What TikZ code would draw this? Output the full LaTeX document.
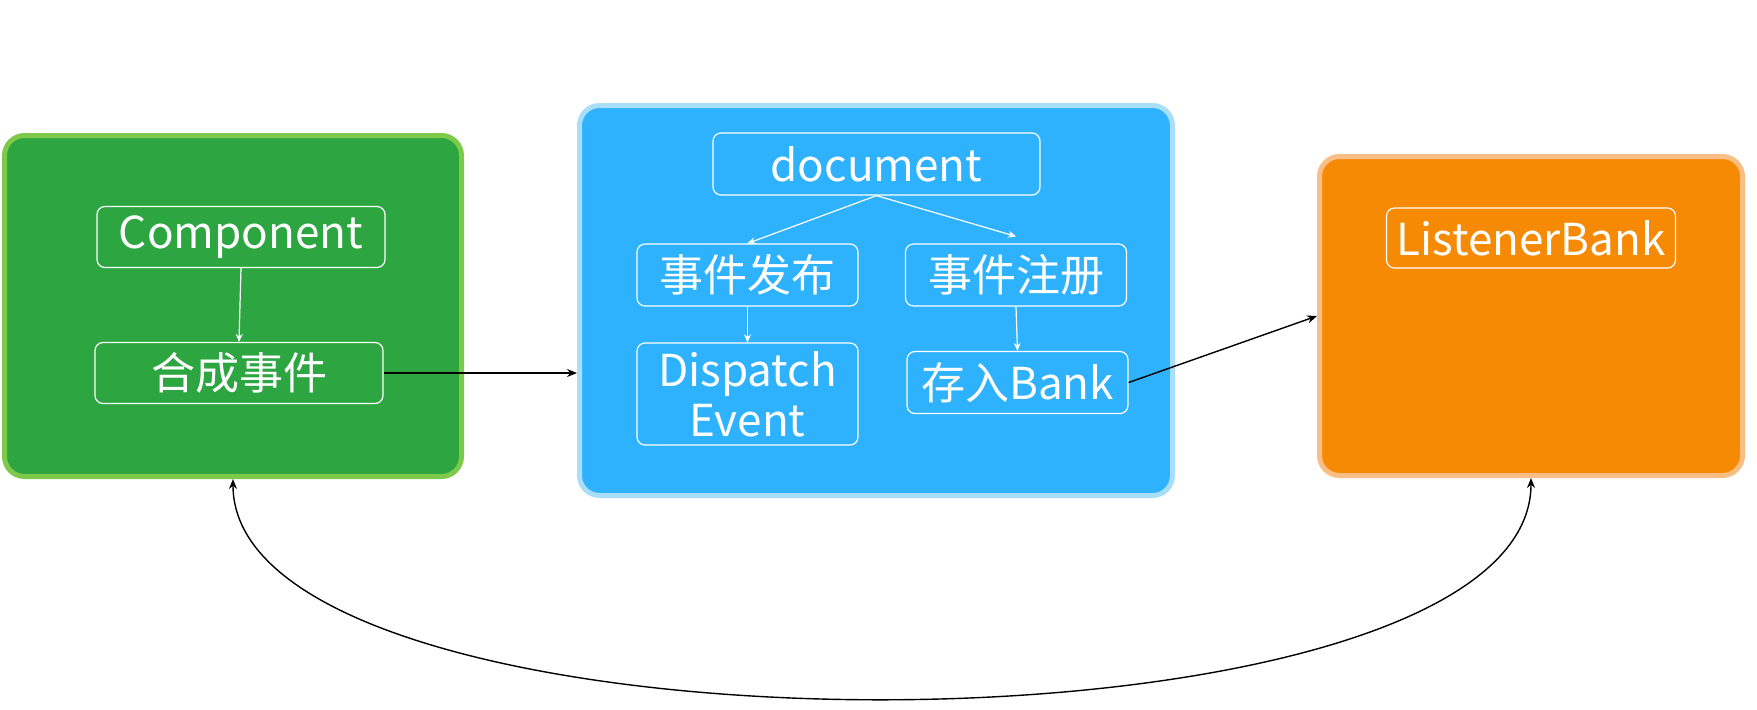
\documentclass[tikz,border=0pt]{standalone}
\usepackage{fontspec}
\setmainfont{Noto Sans CJK SC}
\usetikzlibrary{arrows.meta,positioning,calc}
\definecolor{grnfill}{RGB}{45,166,66}
\definecolor{grnline}{RGB}{125,201,74}
\definecolor{blufill}{RGB}{46,178,253}
\definecolor{bluline}{RGB}{168,222,248}
\definecolor{orgfill}{RGB}{247,138,4}
\definecolor{orgline}{RGB}{249,190,134}
\tikzset{
  >={Stealth[length=5pt,width=4pt]},
  every node/.style={font=\fontsize{22}{25}\selectfont},
  group/.style={line width=2.5pt,rounded corners=10pt,inner sep=0pt},
  item/.style={draw=white,line width=0.6pt,rounded corners=4pt,text=white,
               align=center,inner sep=0pt,minimum height=31pt},
  wide/.style={item,minimum width=144pt,minimum height=30.5pt},
  mid/.style={item,minimum width=110.5pt},
  inner/.style={->,draw=white,line width=0.6pt,>={Stealth[length=4pt,width=3.5pt]}},
  link/.style={->,draw=black,line width=0.7pt},
}

\begin{document}
\begin{tikzpicture}[x=0.5pt,y=0.5pt]
  \useasboundingbox (0,0) rectangle (1757,-709);

  % three groups
  \node[group,draw=grnline,fill=grnfill,minimum width=228.5pt,minimum height=170.5pt] (grn) at (233,-306) {};
  \node[group,draw=bluline,fill=blufill,minimum width=296.5pt,minimum height=195pt] (blu) at (876,-300.5) {};
  \node[group,draw=orgline,fill=orgfill,minimum width=211.5pt,minimum height=159.5pt] (org) at (1531,-316) {};

  % green group
  \node[wide] (comp) at (241,-237) {Component};
  \node[wide] (syn) at (239,-373) {合成事件};

  % blue group
  \node[item,minimum width=163.5pt] (doc) at (876.5,-164) {document};
  \node[mid] (pub) at (747.5,-275) {事件发布};
  \node[mid] (reg) at (1016,-275) {事件注册};
  \node[mid,minimum height=51pt] (disp) at (747.5,-394) {Dispatch\\Event};
  \node[mid] (bank) at (1017.5,-382.5) {存入Bank};

  % orange group
  \node[wide,minimum width=144.5pt,minimum height=30pt] (lsn) at (1531,-238) {ListenerBank};

  % arrows inside
  \draw[inner] (comp.south) -- (syn.north);
  \draw[inner] (doc.south) -- (pub.north);
  \draw[inner] (doc.south) -- ($(reg.north)+(0,7)$);
  \draw[inner] (pub.south) -- (disp.north);
  \draw[inner] (reg.south) -- (bank.north);

  % arrows between groups
  \draw[link] (syn.east) -- (syn.east -| blu.west);
  \draw[link] (bank.east) -- (org.west);
  \draw[link,<->] (grn.south) .. controls +(0,-293) and +(0,-293) .. (org.south);
\end{tikzpicture}
\end{document}
